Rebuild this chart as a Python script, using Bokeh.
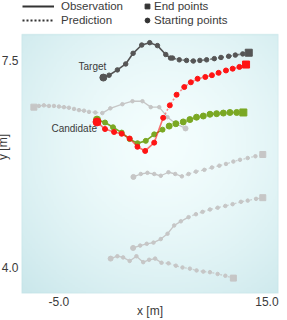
import numpy as np
from bokeh.plotting import figure
from bokeh.models import FixedTicker, PrintfTickFormatter, Legend, LegendItem, BoxAnnotation
from bokeh.core.properties import value
from bokeh.embed import file_html
from bokeh.resources import INLINE

# ---------------- data ----------------
x_ticks = [-5.0, 15.0]
y_ticks = [4.0, 7.5]
XLIM = (-8.6, 16.11)
YLIM = (3.56, 7.94)

# Target (dark gray)
tgt_obs_x = [-0.73, -0.18, 0.62, 1.42, 2.13, 2.96, 3.73, 4.47, 5.27, 5.73]
tgt_obs_y = [7.21, 7.25, 7.34, 7.44, 7.62, 7.76, 7.80, 7.75, 7.60, 7.54]
tgt_pred_x = [5.92, 6.57, 7.27, 7.92, 8.55, 9.20, 9.94, 10.58, 11.32, 11.96, 12.67, 13.25]
tgt_pred_y = [7.54, 7.51, 7.50, 7.49, 7.50, 7.51, 7.53, 7.55, 7.57, 7.59, 7.61, 7.63]

# Candidate red
red_obs_x = [-1.34, -0.57, 0.30, 1.03, 1.80, 2.55, 3.29, 4.16, 5.02]
red_obs_y = [6.46, 6.34, 6.29, 6.26, 6.18, 6.04, 5.97, 6.11, 6.53]
red_pred_x = [5.66, 6.31, 7.05, 7.68, 8.33, 9.07, 9.71, 10.35, 11.06, 11.70, 12.35, 12.99]
red_pred_y = [6.74, 6.92, 7.05, 7.13, 7.19, 7.22, 7.25, 7.29, 7.33, 7.36, 7.39, 7.43]

# Candidate green
grn_obs_x = [-1.34, -0.57, 0.20, 1.03, 1.80, 2.55, 3.35, 4.16, 4.96]
grn_obs_y = [6.50, 6.45, 6.37, 6.28, 6.17, 6.10, 6.14, 6.25, 6.33]
grn_pred_x = [5.60, 6.24, 6.95, 7.59, 8.23, 8.88, 9.52, 10.16, 10.81, 11.44, 12.09, 12.73]
grn_pred_y = [6.39, 6.43, 6.46, 6.50, 6.54, 6.56, 6.59, 6.60, 6.61, 6.62, 6.62, 6.62]

# Other (gray) tracks
g1_obs_x = [7.17, 6.24, 5.44, 4.64, 3.83, 3.03, 2.07, 1.10, -0.06, -0.83]
g1_obs_y = [6.35, 6.43, 6.54, 6.71, 6.71, 6.81, 6.81, 6.76, 6.69, 6.61]
g1_pred_x = [-1.50, -2.11, -2.59, -3.07, -3.55, -4.04, -4.52, -5.00, -5.48, -5.96, -6.45, -6.93, -7.41]
g1_pred_y = [6.62, 6.63, 6.65, 6.66, 6.68, 6.70, 6.71, 6.72, 6.73, 6.73, 6.74, 6.73, 6.71]

g2_obs_x = [2.16, 2.87, 3.51, 4.16, 4.79, 5.53, 6.18, 6.82]
g2_obs_y = [5.53, 5.58, 5.60, 5.58, 5.55, 5.61, 5.58, 5.54]
g2_pred_x = [7.46, 8.17, 8.98, 9.71, 10.42, 11.06, 11.77, 12.41, 13.15, 13.89, 14.60]
g2_pred_y = [5.58, 5.62, 5.65, 5.69, 5.72, 5.75, 5.79, 5.82, 5.85, 5.88, 5.91]

g3_obs_x = [2.13, 2.81, 3.44, 4.09, 4.79, 5.44, 6.08, 6.72, 7.46]
g3_obs_y = [4.33, 4.37, 4.40, 4.42, 4.48, 4.57, 4.71, 4.78, 4.85]
g3_pred_x = [8.17, 8.81, 9.52, 10.26, 11.00, 11.70, 12.50, 13.15, 13.95, 14.60]
g3_pred_y = [4.90, 4.94, 4.98, 5.01, 5.04, 5.07, 5.11, 5.13, 5.16, 5.18]

g4_obs_x = [-0.03, 0.62, 1.17, 1.80, 2.45, 3.10, 3.67, 4.25, 4.86]
g4_obs_y = [4.15, 4.19, 4.17, 4.11, 4.19, 4.09, 4.13, 4.15, 4.08]
g4_pred_x = [5.53, 6.24, 6.88, 7.59, 8.23, 8.88, 9.52, 10.26, 11.00, 11.77]
g4_pred_y = [4.07, 4.03, 4.00, 3.98, 3.95, 3.93, 3.92, 3.89, 3.86, 3.82]

FONT = "Liberation Sans"
TXT = "#3a3a3a"

W, H = 287, 320
BL, BR, BB = 29, 1, 26
TOP_PAD = 34                      # room for the legend above the plotting box
FRAME_H = H - BB
DATA_H = FRAME_H - TOP_PAD
y_end = YLIM[0] + (YLIM[1] - YLIM[0]) * FRAME_H / DATA_H

p = figure(width=W, height=H, output_backend="svg", toolbar_location=None,
           x_range=XLIM, y_range=(YLIM[0], y_end),
           min_border_left=BL, min_border_right=BR, min_border_top=0, min_border_bottom=BB,
           background_fill_color="white", border_fill_color="white")
p.styles = {"margin-left": "-8px"}
p.outline_line_color = None

# gradient background of the plotting box
nx, ny = 160, 160
gx, gy = np.meshgrid(np.linspace(0, 1, nx), np.linspace(0, 1, ny))
d = np.clip(np.sqrt((gx - 0.55) ** 2 + (gy - 0.58) ** 2) / 0.8, 0, 1) ** 1.5
c0 = np.array([244, 254, 254]); c1 = np.array([202, 231, 235])
img = np.empty((ny, nx), dtype=np.uint32)
v = img.view(dtype=np.uint8).reshape((ny, nx, 4))
for k in range(3):
    v[:, :, k] = (c0[k] + (c1[k] - c0[k]) * d).astype(np.uint8)
v[:, :, 3] = 255
p.image_rgba(image=[img], x=XLIM[0], y=YLIM[0], dw=XLIM[1] - XLIM[0], dh=YLIM[1] - YLIM[0])
p.add_layout(BoxAnnotation(left=XLIM[0], right=XLIM[1], bottom=YLIM[0], top=YLIM[1],
                           fill_color=None, line_color="#a9d6db", line_width=1.5))
p.grid.grid_line_color = None

for ax in (p.xaxis[0], p.yaxis[0]):
    ax.axis_line_color = None
    ax.major_tick_line_color = None
    ax.minor_tick_line_color = None
    ax.major_tick_out = 0
    ax.major_tick_in = 0
    ax.major_label_text_font = FONT
    ax.major_label_text_font_size = "12px"
    ax.major_label_text_color = TXT
    ax.axis_label_text_font = FONT
    ax.axis_label_text_font_size = "12px"
    ax.axis_label_text_color = TXT
    ax.axis_label_text_font_style = "normal"
    ax.formatter = PrintfTickFormatter(format="%.1f")
p.xaxis.ticker = FixedTicker(ticks=x_ticks)
p.yaxis.ticker = FixedTicker(ticks=y_ticks)
p.xaxis.axis_label = "x [m]"
p.yaxis.axis_label = "y [m]"
p.xaxis.major_label_standoff = 3
p.xaxis.axis_label_standoff = -5
p.yaxis.major_label_standoff = 3
p.yaxis.axis_label_standoff = -11


def track(ox, oy, px_, py_, color, alpha=1.0, lw=1.6, ms=4, pms=4,
          start_size=7, end_size=7, line_alpha=1.0):
    lx = [ox[-1]] + list(px_)
    ly = [oy[-1]] + list(py_)
    p.line(lx, ly, line_color=color, line_width=lw, line_dash="2 2", line_alpha=line_alpha * 0.8)
    p.line(ox, oy, line_color=color, line_width=lw, line_alpha=line_alpha)
    p.scatter(px_[:-1], py_[:-1], size=pms, marker="circle", color=color, alpha=alpha)
    p.scatter(ox[1:], oy[1:], size=ms, marker="circle", color=color, alpha=alpha)
    p.scatter([px_[-1]], [py_[-1]], size=end_size, marker="square", color=color, alpha=alpha)
    p.scatter([ox[0]], [oy[0]], size=start_size, marker="circle", color=color, alpha=alpha)


GRAY = "#c6c6c6"
for ox, oy, qx, qy in [(g1_obs_x, g1_obs_y, g1_pred_x, g1_pred_y),
                       (g2_obs_x, g2_obs_y, g2_pred_x, g2_pred_y),
                       (g3_obs_x, g3_obs_y, g3_pred_x, g3_pred_y),
                       (g4_obs_x, g4_obs_y, g4_pred_x, g4_pred_y)]:
    track(ox, oy, qx, qy, GRAY, ms=3.5, pms=3.5, start_size=5, end_size=6, lw=1.3)

track(tgt_obs_x, tgt_obs_y, tgt_pred_x, tgt_pred_y, "#555555", ms=4.5, pms=4.5,
      start_size=7, end_size=7)
track(grn_obs_x, grn_obs_y, grn_pred_x, grn_pred_y, "#7aa823", ms=5, pms=6,
      start_size=7, end_size=7)
track(red_obs_x, red_obs_y, red_pred_x, red_pred_y, "#ff1414", ms=5, pms=5,
      start_size=8, end_size=7, line_alpha=0.6)

p.text([tgt_obs_x[0]], [tgt_obs_y[0]], text=["Target"], x_offset=3, y_offset=-11,
       text_align="right", text_baseline="middle", text_font=value(FONT),
       text_font_size="10px", text_color=TXT)
p.text([red_obs_x[0]], [red_obs_y[0]], text=["Candidate"], x_offset=0, y_offset=7,
       text_align="right", text_baseline="middle", text_font=value(FONT),
       text_font_size="10px", text_color=TXT)

# legend proxies: hidden copies of the target track, only their look is used by the legend
r_obs = p.line(tgt_obs_x, tgt_obs_y, line_color="#333333", line_width=2, visible=False)
r_pred = p.line(tgt_pred_x, tgt_pred_y, line_color="#333333", line_width=2,
                line_dash="2 2", visible=False)
r_end = p.scatter(tgt_pred_x[-1:], tgt_pred_y[-1:], marker="square", size=6,
                  color="#333333", visible=False)
r_start = p.scatter(tgt_obs_x[:1], tgt_obs_y[:1], marker="circle", size=6,
                    color="#333333", visible=False)


def mk_legend(items, gw, standoff, loc):
    return Legend(items=items, location=loc, orientation="vertical",
                  glyph_width=gw, glyph_height=14, label_height=14, spacing=0,
                  padding=0, margin=0, label_standoff=standoff,
                  border_line_color=None, background_fill_alpha=0,
                  label_text_font=FONT, label_text_font_size="11.5px",
                  label_text_color=TXT, label_text_baseline="middle")


lg1 = mk_legend([LegendItem(label="Observation", renderers=[r_obs]),
                 LegendItem(label="Prediction", renderers=[r_pred])], 32, 7, (1, FRAME_H - 28))
lg2 = mk_legend([LegendItem(label="End points", renderers=[r_end]),
                 LegendItem(label="Starting points", renderers=[r_start])], 12, 1, (120, FRAME_H - 28))
p.add_layout(lg1, "center")
p.add_layout(lg2, "center")

open("out.html", "w").write(file_html(p, INLINE))
